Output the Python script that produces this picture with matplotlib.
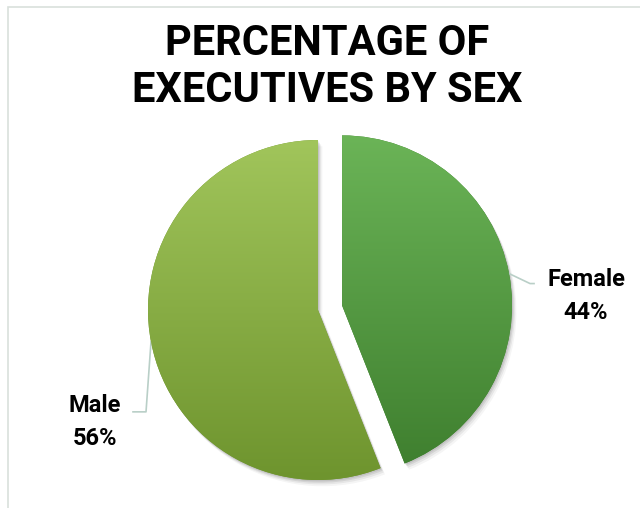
import numpy as np
import matplotlib
matplotlib.use("Agg")
import matplotlib.pyplot as plt
import matplotlib.patheffects as pe
from matplotlib.colors import LinearSegmentedColormap
from matplotlib.patches import Rectangle

# data
labels = ["Female", "Male"]
shares = [44, 56]
explode = [0.144, 0.0]
grad_top = ["#6bb457", "#a1c55b"]
grad_bot = ["#3e7e2e", "#6e942e"]

W, H = 640, 508
PX = 170.0                       # pixels per pie radius
CX, CY = 318.0, 310.0            # pie centre in pixels (from top-left)

fig = plt.figure(figsize=(W / 100, H / 100), dpi=100)
ax = fig.add_axes([0, 0, 1, 1])
ax.axis("off")

wedges, _ = ax.pie(shares, explode=explode, startangle=90, counterclock=False,
                   radius=1.0, wedgeprops=dict(linewidth=0))

shadow = [pe.SimplePatchShadow(offset=(o * 0.7, -o), shadow_rgbFace="black",
                               alpha=a) for o, a in ((4.5, 0.04), (3.2, 0.06),
                                                     (2.0, 0.08), (1.0, 0.08))]
for w, top, bot in zip(wedges, grad_top, grad_bot):
    w.set_facecolor(bot)
    w.set_path_effects(shadow + [pe.Normal()])
    cx, cy = w.center
    cmap = LinearSegmentedColormap.from_list("g", [bot, top])
    grad = np.linspace(0, 1, 256).reshape(-1, 1)
    im = ax.imshow(grad, cmap=cmap, origin="lower", aspect="auto",
                   extent=[cx - 1, cx + 1, cy - 1, cy + 1], zorder=2,
                   interpolation="bilinear")
    im.set_clip_path(w)

ax.set_xlim(-CX / PX, (W - CX) / PX)
ax.set_ylim((CY - H) / PX, CY / PX)

# labels with leader lines
lead = "#b9cfc7"
txt = dict(fontsize=17, fontweight="bold", family="Roboto", color="black",
           ha="center", va="baseline")
for w, lab, val in zip(wedges, labels, shares):
    mid = np.deg2rad((w.theta1 + w.theta2) / 2)
    cx, cy = w.center
    ax0, ay0 = cx + np.cos(mid), cy + np.sin(mid)
    if np.cos(mid) > 0:
        pts = [(ax0, ay0), (ax0 + 21 / PX, ay0 - 10 / PX), (ax0 + 25 / PX, ay0 - 10 / PX)]
        tx = ax0 + 77 / PX
        ty = ay0 - 12 / PX
    else:
        pts = [(ax0, ay0), (ax0 - 5 / PX, ay0 - 70 / PX), (ax0 - 18 / PX, ay0 - 70 / PX)]
        tx = ax0 - 56 / PX
        ty = ay0 - 70 / PX
    xs, ys = zip(*pts)
    ax.plot(xs, ys, color=lead, lw=1.2, zorder=1)
    ax.text(tx, ty, lab, **txt)
    ax.text(tx, ty - 33 / PX, f"{val}%", **txt)

# title
title_kw = dict(fontsize=30, fontweight="bold", family="Roboto", ha="center",
                va="baseline", color="black")
fig.text(327 / W, 1 - 55 / H, "PERCENTAGE OF", **title_kw)
fig.text(327 / W, 1 - 102 / H, "EXECUTIVES BY SEX", **title_kw)

# chart-area border (runs off right/bottom)
fig.patches.append(Rectangle((8 / W, -0.1), 1.2, 1 - 7 / H + 0.1,
                             transform=fig.transFigure, fill=False,
                             edgecolor="#d9e0dc", lw=1.2))

fig.savefig("out.png", dpi=100)
